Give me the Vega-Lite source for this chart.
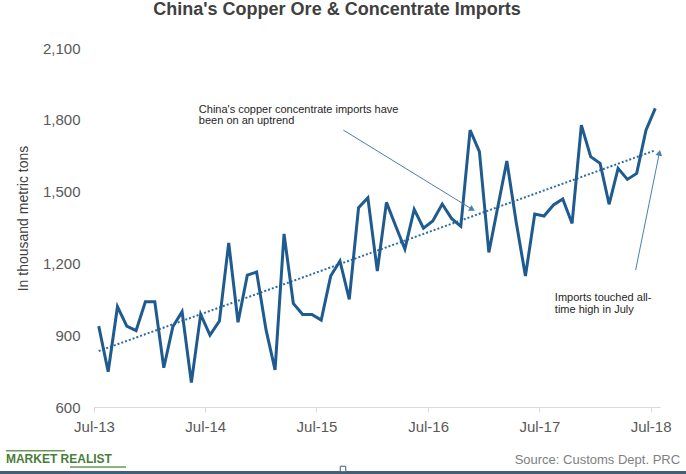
{
  "$schema": "https://vega.github.io/schema/vega-lite/v6.json",
  "width": 566,
  "height": 359,
  "autosize": {"type": "none"},
  "padding": {"left": 94, "top": 48, "right": 26, "bottom": 67},
  "background": "white",
  "config": {
    "view": {"stroke": null},
    "font": "Liberation Sans",
    "axisX": {"title": null}
  },
  "title": {
    "text": "China's Copper Ore & Concentrate Imports",
    "fontSize": 18,
    "fontWeight": "bold",
    "color": "#404040",
    "font": "Liberation Sans",
    "anchor": "middle",
    "frame": "group",
    "baseline": "alphabetic",
    "offset": 8,
    "dx": -40
  },
  "data": {
    "values": [
      {"date": "2013-07", "value": 938}, {"date": "2013-08", "value": 747},
      {"date": "2013-09", "value": 1019}, {"date": "2013-10", "value": 938},
      {"date": "2013-11", "value": 919}, {"date": "2013-12", "value": 1040},
      {"date": "2014-01", "value": 1040}, {"date": "2014-02", "value": 764},
      {"date": "2014-03", "value": 935}, {"date": "2014-04", "value": 998},
      {"date": "2014-05", "value": 702}, {"date": "2014-06", "value": 987},
      {"date": "2014-07", "value": 900}, {"date": "2014-08", "value": 959},
      {"date": "2014-09", "value": 1286}, {"date": "2014-10", "value": 954},
      {"date": "2014-11", "value": 1151}, {"date": "2014-12", "value": 1164},
      {"date": "2015-01", "value": 922}, {"date": "2015-02", "value": 755},
      {"date": "2015-03", "value": 1323}, {"date": "2015-04", "value": 1033},
      {"date": "2015-05", "value": 987}, {"date": "2015-06", "value": 987},
      {"date": "2015-07", "value": 963}, {"date": "2015-08", "value": 1147},
      {"date": "2015-09", "value": 1210}, {"date": "2015-10", "value": 1050},
      {"date": "2015-11", "value": 1433}, {"date": "2015-12", "value": 1474},
      {"date": "2016-01", "value": 1168}, {"date": "2016-02", "value": 1455},
      {"date": "2016-03", "value": 1357}, {"date": "2016-04", "value": 1260},
      {"date": "2016-05", "value": 1426}, {"date": "2016-06", "value": 1347},
      {"date": "2016-07", "value": 1377}, {"date": "2016-08", "value": 1448},
      {"date": "2016-09", "value": 1388}, {"date": "2016-10", "value": 1355},
      {"date": "2016-11", "value": 1757}, {"date": "2016-12", "value": 1667},
      {"date": "2017-01", "value": 1246}, {"date": "2017-02", "value": 1437},
      {"date": "2017-03", "value": 1628}, {"date": "2017-04", "value": 1374},
      {"date": "2017-05", "value": 1147}, {"date": "2017-06", "value": 1406},
      {"date": "2017-07", "value": 1398}, {"date": "2017-08", "value": 1444},
      {"date": "2017-09", "value": 1469}, {"date": "2017-10", "value": 1367},
      {"date": "2017-11", "value": 1778}, {"date": "2017-12", "value": 1646},
      {"date": "2018-01", "value": 1618}, {"date": "2018-02", "value": 1447},
      {"date": "2018-03", "value": 1597}, {"date": "2018-04", "value": 1551},
      {"date": "2018-05", "value": 1576}, {"date": "2018-06", "value": 1757},
      {"date": "2018-07", "value": 1848}
    ],
    "format": {"parse": {"date": "date:'%Y-%m'"}}
  },
  "layer": [
    {
      "data": {"values": [{}]},
      "mark": {"type": "rect", "color": "white"},
      "encoding": {
        "x": {"datum": {"year": 2013, "month": 12, "date": 8}, "type": "temporal"},
        "x2": {"datum": {"year": 2016, "month": 11, "date": 9}},
        "y": {"datum": 1749, "type": "quantitative", "scale": {"domain": [600, 2100], "nice": false, "zero": false}},
        "y2": {"datum": 1883}
      }
    },
    {
      "data": {"values": [{}]},
      "mark": {"type": "rect", "color": "white"},
      "encoding": {
        "x": {"datum": {"year": 2017, "month": 8, "date": 5}, "type": "temporal"},
        "x2": {"datum": {"year": 2018, "month": 8, "date": 1}},
        "y": {"datum": 859, "type": "quantitative", "scale": {"domain": [600, 2100], "nice": false, "zero": false}},
        "y2": {"datum": 1130}
      }
    },
    {
      "transform": [{"regression": "value", "on": "date"}],
      "mark": {"type": "line", "color": "#2e6ca4", "strokeWidth": 2, "strokeDash": [2, 2]},
      "encoding": {
        "x": {"field": "date", "type": "temporal", "timeUnit": "yearmonth", "bandPosition": 0.5},
        "y": {"field": "value", "type": "quantitative", "title": "In thousand metric tons", "scale": {"domain": [600, 2100], "nice": false, "zero": false}}
      }
    },
    {
      "mark": {"type": "line", "color": "#1f5b8e", "strokeWidth": 3},
      "encoding": {
        "x": {
          "field": "date",
          "type": "temporal",
          "timeUnit": "yearmonth",
          "bandPosition": 0.5,
          "scale": {"domain": [{"year": 2013, "month": 7, "date": 1}, {"year": 2018, "month": 8, "date": 1}]},
          "axis": {
            "title": null,
            "values": [
              {"year": 2013, "month": 7, "date": 1}, {"year": 2014, "month": 7, "date": 1},
              {"year": 2015, "month": 7, "date": 1}, {"year": 2016, "month": 7, "date": 1},
              {"year": 2017, "month": 7, "date": 1}, {"year": 2018, "month": 7, "date": 1}
            ],
            "format": "%b-%y",
            "labelFlush": false,
            "grid": false,
            "domainColor": "#d9d9d9",
            "tickColor": "#d9d9d9",
            "tickSize": 5,
            "labelPadding": 7,
            "labelFontSize": 15,
            "labelColor": "#595959",
            "labelFont": "Liberation Sans"
          }
        },
        "y": {
          "field": "value",
          "type": "quantitative",
          "scale": {"domain": [600, 2100], "nice": false, "zero": false},
          "axis": {
            "title": "In thousand metric tons",
            "titleFontSize": 14,
            "titleFontWeight": "normal",
            "titleColor": "#404040",
            "titleFont": "Liberation Sans",
            "titleX": -71,
            "titleY": 170,
            "titleAngle": -90,
            "titleAlign": "center",
            "titleBaseline": "middle",
            "values": [600, 900, 1200, 1500, 1800, 2100],
            "format": ",.0f",
            "domain": false,
            "ticks": false,
            "labelPadding": 14,
            "labelFontSize": 15,
            "labelColor": "#595959",
            "labelFont": "Liberation Sans",
            "gridColor": "#d6d6d6",
            "gridDash": [3, 3]
          }
        }
      }
    },
    {
      "data": {"values": [{}]},
      "mark": {"type": "rule", "color": "#4a7fb0", "strokeWidth": 1},
      "encoding": {
        "x": {"datum": {"year": 2015, "month": 9, "date": 27}, "type": "temporal"},
        "x2": {"datum": {"year": 2016, "month": 11, "date": 23}},
        "y": {"datum": 1757, "type": "quantitative", "scale": {"domain": [600, 2100], "nice": false, "zero": false}},
        "y2": {"datum": 1426}
      }
    },
    {
      "data": {"values": [{}]},
      "mark": {"type": "point", "shape": "triangle-up", "filled": true, "opacity": 1, "size": 45, "angle": 121.6, "color": "#4a7fb0"},
      "encoding": {
        "x": {"datum": {"year": 2016, "month": 11, "date": 23}, "type": "temporal"},
        "y": {"datum": 1426, "type": "quantitative", "scale": {"domain": [600, 2100], "nice": false, "zero": false}}
      }
    },
    {
      "data": {"values": [{}]},
      "mark": {"type": "rule", "color": "#4a7fb0", "strokeWidth": 1},
      "encoding": {
        "x": {"datum": {"year": 2018, "month": 5, "date": 13}, "type": "temporal"},
        "x2": {"datum": {"year": 2018, "month": 7, "date": 30}},
        "y": {"datum": 1172, "type": "quantitative", "scale": {"domain": [600, 2100], "nice": false, "zero": false}},
        "y2": {"datum": 1662}
      }
    },
    {
      "data": {"values": [{}]},
      "mark": {"type": "point", "shape": "triangle-up", "filled": true, "opacity": 1, "size": 45, "angle": 11.6, "color": "#4a7fb0"},
      "encoding": {
        "x": {"datum": {"year": 2018, "month": 7, "date": 30}, "type": "temporal"},
        "y": {"datum": 1662, "type": "quantitative", "scale": {"domain": [600, 2100], "nice": false, "zero": false}}
      }
    },
    {
      "data": {"values": [{}]},
      "mark": {
        "type": "text",
        "text": "China's copper concentrate imports have\nbeen on an uptrend",
        "lineBreak": "\n",
        "lineHeight": 11,
        "align": "left",
        "baseline": "alphabetic",
        "fontSize": 11,
        "color": "#262626"
      },
      "encoding": {
        "x": {"datum": {"year": 2014, "month": 6, "date": 10}, "type": "temporal"},
        "y": {"datum": 1827, "type": "quantitative", "scale": {"domain": [600, 2100], "nice": false, "zero": false}}
      }
    },
    {
      "data": {"values": [{}]},
      "mark": {
        "type": "text",
        "text": "Imports touched all-\ntime high in July",
        "lineBreak": "\n",
        "lineHeight": 12.5,
        "align": "left",
        "baseline": "alphabetic",
        "fontSize": 11,
        "color": "#262626"
      },
      "encoding": {
        "x": {"datum": {"year": 2017, "month": 8, "date": 21}, "type": "temporal"},
        "y": {"datum": 1044, "type": "quantitative", "scale": {"domain": [600, 2100], "nice": false, "zero": false}}
      }
    },
    {
      "data": {"values": [{}]},
      "mark": {"type": "text", "text": "MARKET REALIST", "align": "left", "baseline": "alphabetic", "fontSize": 12, "fontWeight": "bold", "color": "#4a7c3a"},
      "encoding": {
        "x": {"datum": {"year": 2012, "month": 9, "date": 15}, "type": "temporal"},
        "y": {"datum": 367, "type": "quantitative", "scale": {"domain": [600, 2100], "nice": false, "zero": false}}
      }
    },
    {
      "data": {"values": [{}]},
      "mark": {"type": "rule", "color": "#6a9a55", "strokeWidth": 1.5},
      "encoding": {
        "x": {"datum": {"year": 2012, "month": 9, "date": 15}, "type": "temporal"},
        "x2": {"datum": {"year": 2013, "month": 3, "date": 28}},
        "y": {"datum": 417, "type": "quantitative", "scale": {"domain": [600, 2100], "nice": false, "zero": false}}
      }
    },
    {
      "data": {"values": [{}]},
      "mark": {"type": "rule", "color": "#6a9a55", "strokeWidth": 1.5},
      "encoding": {
        "x": {"datum": {"year": 2013, "month": 4, "date": 13}, "type": "temporal"},
        "x2": {"datum": {"year": 2013, "month": 10, "date": 14}},
        "y": {"datum": 349, "type": "quantitative", "scale": {"domain": [600, 2100], "nice": false, "zero": false}}
      }
    },
    {
      "data": {"values": [{}]},
      "mark": {"type": "text", "text": "Source: Customs Dept. PRC", "align": "right", "baseline": "alphabetic", "fontSize": 13, "color": "#808080"},
      "encoding": {
        "x": {"datum": {"year": 2018, "month": 10, "date": 6}, "type": "temporal"},
        "y": {"datum": 362, "type": "quantitative", "scale": {"domain": [600, 2100], "nice": false, "zero": false}}
      }
    },
    {
      "data": {"values": [{}]},
      "mark": {"type": "rect", "color": "#3f5f7a"},
      "encoding": {
        "x": {"datum": {"year": 2012, "month": 6, "date": 1}, "type": "temporal"},
        "x2": {"datum": {"year": 2019, "month": 3, "date": 1}},
        "y": {"datum": 303, "type": "quantitative", "scale": {"domain": [600, 2100], "nice": false, "zero": false}},
        "y2": {"datum": 333}
      }
    },
    {
      "data": {"values": [{}]},
      "mark": {"type": "point", "shape": "square", "filled": true, "size": 30, "fill": "white", "stroke": "#3f5f7a", "strokeWidth": 1, "opacity": 1},
      "encoding": {
        "x": {"datum": {"year": 2015, "month": 9, "date": 26}, "type": "temporal"},
        "y": {"datum": 341, "type": "quantitative", "scale": {"domain": [600, 2100], "nice": false, "zero": false}}
      }
    }
  ]
}
